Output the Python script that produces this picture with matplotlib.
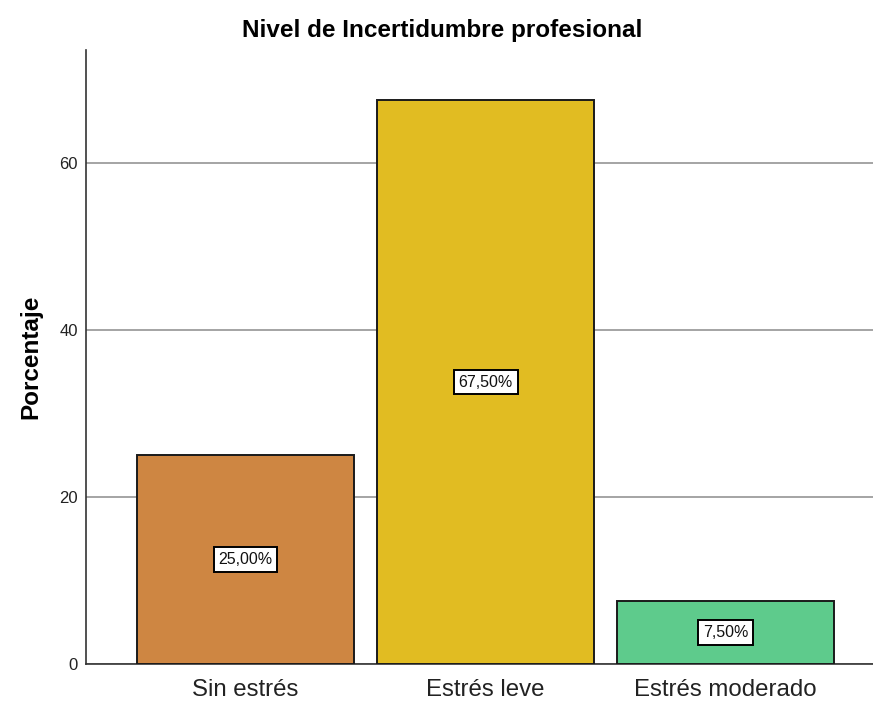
import matplotlib
matplotlib.use("Agg")
import matplotlib.pyplot as plt

categories = ["Sin estrés", "Estrés leve", "Estrés moderado"]
percentages = [25.00, 67.50, 7.50]
bar_colors = ["#CE8642", "#E1BC22", "#5ECB8C"]
y_ticks = [0, 20, 40, 60]

plt.rcParams["font.family"] = ["Liberation Sans", "DejaVu Sans"]

fig = plt.figure(figsize=(8.73, 7.02), dpi=100)
ax = fig.add_axes([0.0985, 0.0541, 0.9015, 0.8747])

positions = list(range(len(categories)))
ax.set_axisbelow(True)
ax.yaxis.grid(True, color="#8c8c8c", linewidth=1.1)
bars = ax.bar(positions, percentages, width=0.905, color=bar_colors,
              edgecolor="#1a1a1a", linewidth=1.4, zorder=3)

for pos, val in zip(positions, percentages):
    ax.text(pos, val / 2, f"{val:.2f}%".replace(".", ","), ha="center", va="center",
            fontsize=11.5, zorder=4, color="#111111",
            bbox=dict(boxstyle="square,pad=0.3", facecolor="white",
                      edgecolor="black", linewidth=1.4))

ax.set_xlim(-0.665, 2.614)
ax.set_ylim(0, 73.5)
ax.set_xticks(positions)
ax.set_xticklabels(categories, fontsize=17.3, color="#222222")
ax.set_yticks(y_ticks)
ax.set_yticklabels([str(t) for t in y_ticks], fontsize=12, color="#222222")
ax.tick_params(axis="y", length=0, pad=6)
ax.tick_params(axis="x", length=0, pad=11)

for side in ("top", "right"):
    ax.spines[side].set_visible(False)
for side in ("left", "bottom"):
    ax.spines[side].set_color("#333333")
    ax.spines[side].set_linewidth(1.2)

ax.set_ylabel("Porcentaje", fontsize=17.5, fontweight="bold", labelpad=12)
fig.text(442 / 873, 1 - 31 / 702, "Nivel de Incertidumbre profesional",
         fontsize=17.5, fontweight="bold", ha="center", va="center")

fig.savefig("out.png", dpi=100)
